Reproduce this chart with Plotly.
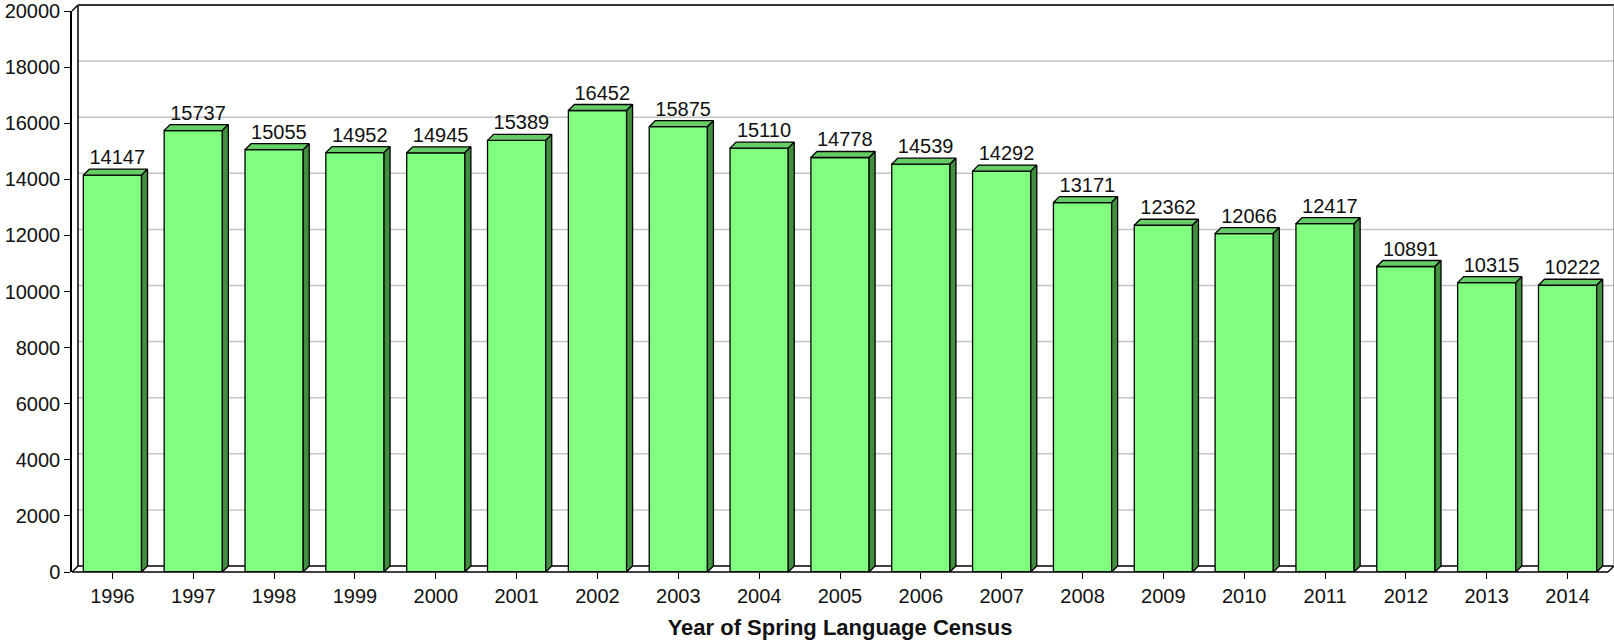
import plotly.graph_objects as go

years = ["1996", "1997", "1998", "1999", "2000", "2001", "2002", "2003", "2004", "2005",
         "2006", "2007", "2008", "2009", "2010", "2011", "2012", "2013", "2014"]
counts = [14147, 15737, 15055, 14952, 14945, 15389, 16452, 15875, 15110, 14778,
          14539, 14292, 13171, 12362, 12066, 12417, 10891, 10315, 10222]
y_ticks = [0, 2000, 4000, 6000, 8000, 10000, 12000, 14000, 16000, 18000, 20000]
x_title = "Year of Spring Language Census"

# layout geometry (pixels)
W, H = 1614, 640
ML, MR, MT, MB = 72, 6, 11, 68
PW, PH = W - ML - MR, H - MT - MB
YMAX = 20000
N = len(years)
DEPTH = 6  # 3D depth in px
dx = DEPTH * N / PW
dy = DEPTH * YMAX / PH
bw = 0.72

FRONT = "#80FF80"
TOP = "#66CC66"
SIDE = "#3F8F3F"

xs = list(range(N))

# top and side faces
top_x, top_y, side_x, side_y = [], [], [], []
for i, v in zip(xs, counts):
    l, r = i - bw / 2, i + bw / 2
    top_x += [l, l + dx, r + dx, r, l, None]
    top_y += [v, v + dy, v + dy, v, v, None]
    side_x += [r, r + dx, r + dx, r, r, None]
    side_y += [v, v + dy, dy, 0, v, None]

fig = go.Figure()
fig.add_trace(go.Bar(x=xs, y=counts, width=bw,
                     marker=dict(color=FRONT, line=dict(color="black", width=1.3)),
                     hoverinfo="skip", showlegend=False))
fig.add_trace(go.Scatter(x=top_x, y=top_y, mode="lines", fill="toself", fillcolor=TOP,
                         line=dict(color="black", width=1.3), hoverinfo="skip", showlegend=False))
fig.add_trace(go.Scatter(x=side_x, y=side_y, mode="lines", fill="toself", fillcolor=SIDE,
                         line=dict(color="black", width=1.3), hoverinfo="skip", showlegend=False))
fig.add_trace(go.Scatter(x=[i + dx * 0.8 for i in xs], y=[v + dy for v in counts],
                         mode="text", text=[str(v) for v in counts], textposition="top center",
                         textfont=dict(family="Liberation Sans, Arial", size=20, color="#111"),
                         cliponaxis=False, hoverinfo="skip", showlegend=False))

# frame (back wall, left wall, floor) in paper coordinates
px = DEPTH / PW
py = DEPTH / PH
shapes = []
for t in y_ticks[1:-1]:
    shapes.append(dict(type="line", xref="paper", yref="paper", x0=px, x1=1 + px,
                       y0=t / YMAX + py, y1=t / YMAX + py,
                       line=dict(color="#C4C4C4", width=1.5), layer="below"))
line_k = dict(color="black", width=1.5)
# back wall left edge and top
shapes.append(dict(type="line", xref="paper", yref="paper", x0=px, x1=px, y0=py, y1=1 + py, line=line_k))
shapes.append(dict(type="line", xref="paper", yref="paper", x0=0, x1=px, y0=1, y1=1 + py, line=line_k))
shapes.append(dict(type="line", xref="paper", yref="paper", x0=px, x1=1 + px, y0=1 + py, y1=1 + py,
                   line=dict(color="#333", width=2)))
shapes.append(dict(type="line", xref="paper", yref="paper", x0=1 + px, x1=1 + px, y0=py, y1=1 + py,
                   line=dict(color="#999", width=1.5)))
# floor
shapes.append(dict(type="line", xref="paper", yref="paper", x0=px, x1=1 + px, y0=py, y1=py,
                   line=line_k, layer="below"))
shapes.append(dict(type="line", xref="paper", yref="paper", x0=0, x1=px, y0=0, y1=py, line=line_k, layer="below"))
shapes.append(dict(type="line", xref="paper", yref="paper", x0=1, x1=1 + px, y0=0, y1=py, line=line_k))
shapes.append(dict(type="line", xref="paper", yref="paper", x0=0, x1=1, y0=0, y1=0, line=line_k))

fig.update_layout(
    width=W, height=H,
    margin=dict(l=ML, r=MR, t=MT, b=MB, pad=0, autoexpand=False),
    paper_bgcolor="white", plot_bgcolor="rgba(0,0,0,0)",
    font=dict(family="Liberation Sans, Arial", size=20, color="#111"),
    shapes=shapes,
    xaxis=dict(range=[-0.5, N - 0.5], tickmode="array", tickvals=xs, ticktext=years,
               showgrid=False, zeroline=False, showline=False, automargin=False,
               ticks="outside", ticklen=6, tickcolor="black", tickwidth=1.3,
               tickfont=dict(size=20),
               title=dict(text="<b>" + x_title + "</b>", font=dict(size=22), standoff=13)),
    yaxis=dict(range=[0, YMAX], tickmode="array", tickvals=y_ticks,
               ticktext=[str(t) for t in y_ticks], automargin=False,
               showgrid=False, zeroline=False, showline=True, linecolor="black", linewidth=1.5,
               ticks="outside", ticklen=6, tickcolor="black", tickwidth=1.3,
               tickfont=dict(size=20)),
)

fig.write_html("out.html", config={"displayModeBar": False},
               post_script="document.body.style.margin='0';document.body.style.overflow='hidden';")
